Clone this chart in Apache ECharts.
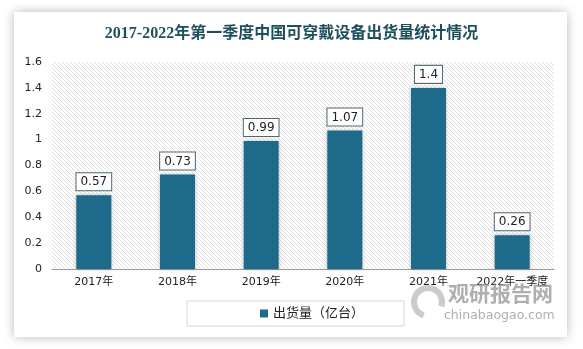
<!DOCTYPE html>
<html><head><meta charset="utf-8">
<script src="https://cdn.jsdelivr.net/npm/echarts@6/dist/echarts.min.js"></script>
<style>html,body{margin:0;padding:0;background:#ffffff;}#c{width:583px;height:349px;}</style>
</head><body><div id="c"></div>
<script>
const title = '2017-2022年第一季度中国可穿戴设备出货量统计情况';
const categories = ['2017年','2018年','2019年','2020年','2021年','2022年一季度'];
const seriesName = '出货量（亿台）';
const shipments = [0.57, 0.73, 0.99, 1.07, 1.4, 0.26];
const yTicks = {min: 0, max: 1.6, interval: 0.2};

// hatch pattern
const pc = document.createElement('canvas');
pc.width = 4; pc.height = 4;
const px = pc.getContext('2d');
px.fillStyle = '#ffffff'; px.fillRect(0,0,4,4);
px.strokeStyle = '#e0e0e0'; px.lineWidth = 1;
px.beginPath();
px.moveTo(-1,-1); px.lineTo(5,5);
px.moveTo(-1,3); px.lineTo(1,5);
px.moveTo(3,-1); px.lineTo(5,1);
px.stroke();

const chart = echarts.init(document.getElementById('c'), null, {renderer:'canvas'});
const lab = 'DejaVu Sans, Noto Sans CJK SC, sans-serif';
chart.setOption({
  backgroundColor: '#ffffff',
  animation: false,
  graphic: [
    {type:'rect', z:-10, shape:{x:14,y:12,width:553,height:325},
     style:{fill:'#ffffff', shadowBlur:10, shadowColor:'rgba(0,0,0,0.28)', shadowOffsetX:0, shadowOffsetY:0}},
    {type:'text', left:448, top:283, z:10, style:{text:'观研报告网', fill:'rgba(140,140,140,0.7)', font:'bold 21px "Noto Sans CJK SC"'}},
    {type:'text', left:444, top:309, z:10, style:{text:'chinabaogao.com', fill:'rgba(140,140,140,0.7)', font:'12.5px "DejaVu Sans"'}},
    {type:'arc', z:10, shape:{cx:428, cy:302, r:14, startAngle:Math.PI*0.6, endAngle:Math.PI*2.1}, style:{fill:'none', stroke:'rgba(160,160,160,0.55)', lineWidth:6}}
  ],
  title: {
    text: title, left: 'center', top: 21,
    textStyle: {fontFamily:'Liberation Serif, Noto Sans CJK SC, serif', fontWeight:'bold', fontSize:16, color:'#1f4f5c'}
  },
  legend: {
    data: [seriesName], left: 187, top: 301,
    padding: [6, 40, 6, 73],
    borderColor: '#d6d6d6', borderWidth: 1,
    itemWidth: 8, itemHeight: 8, itemGap: 5, icon: 'rect',
    textStyle: {fontFamily: lab, fontSize: 13, color:'#222'}
  },
  grid: {left:52, right:29, top:62, bottom:80, show:true, borderWidth:0,
         backgroundColor: {image: pc, repeat: 'repeat'}},
  xAxis: {
    type:'category', data: categories,
    axisLine: {lineStyle:{color:'#9a9a9a'}},
    axisTick: {show:false},
    axisLabel: {fontFamily: lab, fontSize: 11, color:'#222', margin: 8, interval: 0}
  },
  yAxis: {
    type:'value', min: yTicks.min, max: yTicks.max, interval: yTicks.interval,
    axisLine:{show:false}, axisTick:{show:false}, splitLine:{show:false},
    axisLabel:{fontFamily: lab, fontSize: 11, color:'#222', margin: 10}
  },
  series: [{
    name: seriesName, type:'bar', data: shipments, barWidth: 35,
    itemStyle: {color:'#1d6a8b', shadowBlur:4, shadowColor:'rgba(0,0,0,0.25)'},
    label: {
      show:true, position:'top', distance: 5,
      fontFamily: lab, fontSize: 12, color:'#222',
      backgroundColor:'#ffffff', borderColor:'#4d6670', borderWidth:1,
      padding:[3,4,2,4]
    }
  }]
});
</script></body></html>
